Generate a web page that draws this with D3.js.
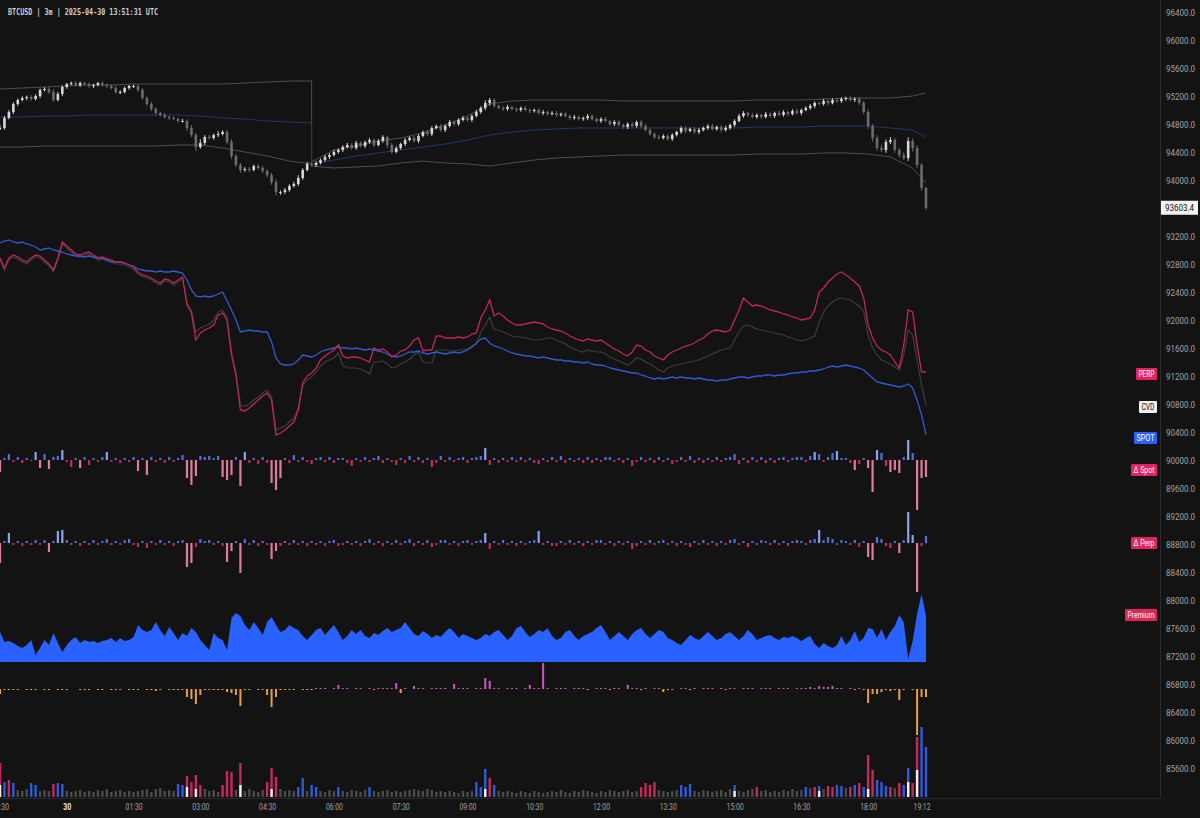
<!DOCTYPE html>
<html><head><meta charset="utf-8">
<script src="https://cdn.jsdelivr.net/npm/d3@7"></script>
<style>
html,body{margin:0;padding:0;background:#131313;}
svg{display:block;}
</style></head><body>
<svg id="c" width="1200" height="818"></svg>
<script>
// ---------- DATA (6-minute resolution, point i = 22:30 + 6*i minutes) ----------
const closes = [
94743,94886,94971,95086,95143,95171,95186,95157,95200,95286,
95300,95257,95143,95229,95329,95371,95386,95357,95386,95371,
95343,95357,95386,95357,95343,95314,95257,95257,95314,95343,
95343,95286,95171,95086,95014,94957,94929,94900,94886,94871,
94843,94843,94743,94643,94471,94529,94614,94600,94643,94657,
94686,94543,94343,94214,94143,94157,94143,94200,94171,94129,
94071,93971,93829,93829,93857,93914,93943,94029,94143,94229,
94214,94243,94286,94329,94357,94400,94429,94471,94500,94457,
94529,94486,94543,94571,94500,94557,94614,94500,94400,94457,
94514,94571,94600,94557,94629,94686,94657,94743,94771,94714,
94771,94829,94800,94857,94886,94857,94914,94971,95029,95100,
95143,95057,95029,95014,95043,95014,95000,95029,95000,94986,
95000,94957,94971,94943,94957,94929,94943,94914,94886,94900,
94871,94886,94914,94871,94843,94871,94843,94800,94829,94786,
94757,94800,94771,94829,94771,94714,94657,94614,94600,94629,
94586,94643,94686,94743,94700,94729,94686,94714,94743,94771,
94729,94757,94714,94743,94786,94843,94914,94957,94929,94900,
94929,94900,94943,94914,94957,94929,94971,94943,94986,94957,
95000,95029,95057,95100,95086,95129,95100,95143,95129,95157,
95171,95143,95157,95100,94971,94771,94600,94457,94429,94543,
94571,94429,94357,94314,94557,94457,94214,93886,93603.4];
// upper / lower wick lengths (USD beyond the body)
const wickHi = [
40,30,30,25,20,25,20,30,25,20, 25,30,40,30,20,15,20,25,20,20, 25,20,15,25,20,25,30,25,20,15, 20,25,30,25,30,25,20,25,20,25,
20,30,25,40,30,50,25,30,20,40, 25,30,40,25,30,25,30,20,25,30, 25,30,40,20,30,25,30,40,25,30, 30,25,20,30,25,30,20,25,30,25,
30,25,20,30,25,30,25,20,30,25, 20,30,25,30,25,20,30,25,20,30, 25,30,20,25,30,20,25,30,25,40, 30,25,20,25,30,20,25,20,30,25,
20,25,30,20,25,30,20,25,20,30, 25,20,30,25,20,25,30,20,25,30, 20,25,30,20,25,30,25,20,30,25, 30,25,20,25,30,20,25,30,20,25,
30,20,25,30,20,25,30,25,20,30, 25,20,30,25,20,30,25,20,25,30, 20,25,30,25,20,30,25,20,30,25, 20,30,25,30,30,40,30,40,50,35,
40,30,30,40,50,35,40,30,20];
const wickLo = [
30,25,20,30,25,20,30,25,20,30, 20,30,25,20,30,25,20,25,30,20, 25,30,20,25,30,20,25,30,20,25, 30,25,20,30,25,30,20,25,30,20,
25,20,40,30,60,25,30,20,25,30, 20,30,40,30,40,25,30,20,25,30, 30,40,50,40,30,25,20,30,25,20, 25,30,20,25,30,20,25,30,20,30,
25,20,30,25,30,20,25,40,30,20, 25,30,20,25,30,20,25,30,20,25, 30,20,25,30,20,25,30,20,25,30, 40,25,20,30,25,20,30,25,20,30,
25,20,30,25,20,30,25,20,30,25, 20,25,30,20,25,30,20,25,30,20, 25,30,20,25,30,20,25,30,25,20, 25,30,20,25,30,20,25,30,20,25,
20,25,30,20,25,30,20,25,30,20, 25,30,20,25,30,20,25,30,20,25, 30,20,25,30,20,25,30,20,25,30, 25,20,30,25,30,40,50,40,30,40,
30,40,40,30,40,50,40,40,30];

// anchored VWAP bands (session reset at 05:30)
const bandIdx = [0,5,10,15,20,25,30,35,40,45,50,55,60,65,70,
  70,75,80,85,90,95,100,105,110,115,120,125,130,135,140,145,150,155,160,165,170,175,180,185,190,195,200,205,208];
const bandUpper = [95300,95314,95329,95343,95357,95357,95371,95371,95371,95371,95371,95386,95400,95414,95414,
  94257,94429,94486,94557,94600,94671,94786,94914,95086,95129,95143,95143,95143,95143,95129,95129,95129,95129,95129,95129,95143,95143,95143,95157,95171,95171,95171,95200,95243];
const bandMid = [94900,94900,94914,94914,94929,94929,94929,94929,94929,94914,94886,94871,94843,94829,94814,
  94229,94286,94343,94386,94429,94471,94514,94571,94643,94686,94714,94729,94743,94743,94743,94743,94743,94743,94743,94743,94757,94757,94757,94771,94771,94771,94743,94714,94614];
const bandLower = [94471,94471,94486,94486,94486,94486,94486,94486,94500,94500,94457,94400,94343,94271,94229,
  94200,94171,94186,94200,94243,94271,94243,94229,94200,94243,94286,94314,94329,94343,94357,94357,94357,94357,94357,94357,94371,94371,94371,94386,94386,94371,94329,94171,93957];

// cumulative volume delta pane
const spotCvd = [
197,199,200,198,197,198,196,195,193,190,191,192,190,189,188,186,185,184,184,183,
184,183,182,182,180,178,178,178,177,175,174,171,170,169,169,168,169,168,168,169,
168,167,160,150,144,143,144,143,144,146,148,139,130,120,108,109,110,109,109,108,
108,98,82,76,75,75,76,80,85,84,83,85,88,90,91,92,93,92,92,91,
92,91,90,91,90,89,88,86,84,83,84,86,88,88,89,87,86,87,88,87,
86,87,88,87,88,90,93,97,101,102,97,94,93,91,89,87,86,85,84,84,
83,82,83,82,81,80,80,79,79,78,78,77,78,76,75,75,74,72,71,70,
69,68,67,67,65,64,62,61,62,61,62,63,62,63,62,62,61,62,61,60,
60,59,60,60,61,62,63,63,62,63,64,64,65,65,64,65,65,66,67,67,
68,68,69,69,70,71,73,74,73,74,75,74,73,72,70,66,62,58,57,56,
55,54,53,54,56,52,40,25,5];
const perpCvd = [
182,172,182,185,183,180,178,182,185,184,180,176,170,182,198,194,190,186,185,187,
188,185,182,183,181,180,178,178,177,175,173,168,165,164,162,159,157,161,160,157,
160,163,135,127,100,107,110,112,115,125,127,120,85,65,30,29,32,36,40,44,
47,40,5,7,10,14,18,30,57,64,67,72,80,84,87,90,95,84,82,83,
83,82,80,78,92,90,91,88,83,85,89,90,94,100,102,89,90,90,104,104,
102,102,102,103,102,103,106,107,122,130,140,124,127,124,120,117,115,115,116,117,
118,117,116,113,111,110,109,107,104,102,100,99,101,100,99,100,97,94,91,89,
86,84,88,95,94,90,88,84,82,80,85,88,90,92,94,95,97,100,102,106,
109,110,109,108,110,120,130,142,138,134,135,134,132,130,129,128,126,125,123,122,
120,121,122,130,148,152,158,162,166,168,165,162,158,154,142,115,102,94,90,88,
85,78,72,95,130,128,95,68,68];
const totalCvd = [
180,170,180,183,181,178,176,180,183,182,178,174,168,180,196,192,188,184,183,185,
186,183,180,181,179,178,176,176,175,173,171,166,163,162,160,157,155,159,158,155,
158,161,137,130,108,112,114,116,120,128,130,122,88,68,35,34,36,40,43,47,
50,43,10,12,14,18,22,32,55,60,63,68,74,78,80,82,87,75,72,72,
72,71,69,66,78,78,79,76,72,73,76,78,81,85,88,78,77,77,90,90,
90,89,89,90,90,91,94,96,108,115,123,110,110,108,106,104,103,103,102,101,
100,100,101,102,102,100,98,96,93,91,89,88,90,89,88,88,86,83,81,79,
77,75,78,82,81,78,76,73,70,68,72,74,75,76,77,78,79,80,82,84,
86,88,90,91,92,100,108,114,115,113,111,110,109,108,107,106,105,103,102,100,
99,100,102,104,118,128,134,138,141,142,141,140,137,134,128,105,92,85,80,78,
76,73,70,85,110,105,80,55,35];

// per-bar deltas
const deltaSpot = [
-12,2,6,-2,3,-3,2,-1,8,-8, 6,-9,3,4,10,-2,-7,2,-8,3, -5,2,-2,3,8,-2,2,-3,2,-2, 3,-11,2,-15,3,-2,2,-3,3,-2,
2,5,-18,-25,-16,4,3,4,2,4, -17,-20,-15,3,-26,8,-3,2,-4,3, -3,-23,-30,-18,2,-3,5,-2,3,-2, -4,2,3,-2,3,-3,2,2,-3,-6,
2,-2,3,-2,2,4,-3,2,-2,-5, 2,-3,4,-2,3,-3,2,-7,-3,4, -2,3,-2,2,3,-3,2,3,4,12, -5,2,-3,2,-2,3,-2,3,-2,2,
-3,-4,2,-2,3,-2,4,-3,2,-2, 2,-3,3,-3,2,-2,3,3,-2,2, -3,2,-6,-2,3,-2,2,-3,3,-2, 2,-4,-2,3,-2,4,-3,2,-3,2,
-2,3,-2,2,3,6,-4,2,-3,3, -2,3,-3,2,-3,2,3,-2,2,3, 3,-2,4,8,6,-2,3,7,9,2, 2,-3,-10,-4,2,-8,-32,10,7,-6,
-12,-10,-13,3,20,7,-50,-18,-17];
const deltaPerp = [
-20,2,10,-2,2,-3,2,-2,3,-2, 3,-9,2,12,13,3,-2,2,-3,2, -2,3,-2,2,4,-2,2,-2,3,4, -2,-4,2,-5,2,-2,3,-2,2,-3,
2,3,-24,-20,-4,4,2,3,-2,2, -3,-19,-8,2,-30,4,-2,3,-3,2, -2,-16,-8,-3,2,-2,3,-2,2,-3, 2,-2,2,-3,2,3,-3,-2,2,-2,
2,-3,2,4,-2,2,-3,2,-2,3, -2,2,4,-3,2,-2,3,-4,-2,3, 3,-2,2,-3,2,3,-2,2,3,10, -6,2,-2,3,-2,2,-3,2,-2,2,
3,12,-2,2,-3,-3,2,-2,3,-2, 2,-3,2,-2,3,3,-2,2,-3,2, -2,2,-6,-3,2,-2,3,-2,2,3, -2,2,-3,2,-2,-4,2,-2,3,-2,
2,-3,2,-2,3,4,-2,2,-4,2, -2,3,2,-2,3,-2,2,-3,2,3, 2,-2,3,4,13,3,6,4,-2,3, 2,-2,3,-4,2,-14,-17,6,4,-3,
-5,2,-10,3,31,8,-49,-3,7];

// perp premium
const premium = [
30,20,21,19,16,14,17,22,7,14, 22,17,29,19,10,17,22,25,19,22, 20,21,19,21,22,24,20,24,21,22, 25,37,32,30,32,40,32,26,35,29,
22,29,26,34,30,22,17,12,29,24, 22,12,44,49,46,37,32,40,34,27, 40,45,37,30,32,37,34,32,26,22, 27,32,34,27,32,37,30,22,26,32,
28,32,26,24,29,27,31,34,30,32, 34,40,34,28,26,31,28,24,27,25, 30,34,30,24,28,26,24,22,24,28, 26,30,32,27,22,26,34,36,30,25,
28,32,30,34,26,22,24,30,32,26, 22,26,28,30,34,37,30,22,26,30, 26,22,28,32,34,28,24,28,32,30, 24,22,19,17,22,27,24,22,26,30,
26,22,24,28,30,26,22,26,32,28, 22,24,26,27,24,22,25,24,26,24, 21,24,26,18,14,19,16,14,17,26, 17,22,31,20,24,34,33,24,33,22,
30,36,47,40,3,21,48,68,46];

// liquidations / large prints (pink up, orange down)
const liqFlow = [
-5,-1,-1,-1,-1,0,-1,-1,-1,0, -1,-1,0,-1,-1,-1,0,0,-1,-1, -1,0,-1,-1,0,-1,-1,-1,0,-1, -1,-1,0,-1,-1,-2,-1,0,-1,-1,
-1,-1,-8,-10,-15,-6,-1,-1,-1,-1, -1,-3,-4,-6,-17,-1,-1,0,-1,-1, -6,-18,-8,-1,-1,-1,-1,0,-1,-1, -1,1,1,1,0,1,4,1,1,0,
1,1,0,1,-1,1,1,1,1,6, -4,1,0,3,1,1,0,1,1,1, 1,0,5,1,1,1,0,1,1,11, 8,1,1,0,1,1,1,0,1,4,
1,1,26,1,0,1,1,1,0,1, 1,1,-1,0,1,1,1,-1,1,1, 0,4,1,1,-1,1,0,1,1,-3, -1,-1,0,1,1,-1,1,0,1,1,
1,0,1,-1,1,1,0,1,1,1, 0,1,1,1,0,1,1,1,0,1, 1,1,2,1,3,2,2,3,1,1, 0,1,-1,1,-1,-14,-5,-5,-3,-1,
-2,-1,-11,-1,0,-1,-46,-8,-8];

// volume (signed: + buy dominant, - sell dominant)
const volume = [
-34,15,-17,14,7,6,8,14,12,6, 7,6,-13,14,13,6,5,6,7,5, 6,5,7,6,-8,5,6,7,5,6, 5,6,7,-8,5,-8,9,6,7,6,
13,12,-21,-15,-22,-12,8,6,7,5, -12,-26,-25,7,-34,6,-8,6,5,7, -15,-29,-20,8,6,7,6,10,19,6, 12,10,6,5,7,6,10,6,5,7,
6,5,7,10,6,5,6,7,5,6, 5,6,7,8,7,6,8,7,5,6, 5,6,5,4,6,5,6,15,10,28, -19,12,6,5,-6,5,4,6,5,4,
6,5,4,5,6,5,-7,5,4,6, 5,-7,6,5,4,6,5,7,6,5, 6,7,5,6,-10,-14,-12,-15,7,6, 5,6,7,12,10,13,6,5,7,6,
5,6,7,5,8,12,6,5,7,-8, -10,6,7,5,6,5,7,6,8,6, 7,10,9,-10,11,8,-11,-10,12,11, 9,-10,12,-14,10,-42,-27,17,15,11,
-10,9,-14,12,29,-14,-60,70,50];
const whaleIdx = [0,42,44,54,61,109,165,184,195,204,206];
const whaleVol = [12,10,8,12,8,8,6,6,8,15,27];

const priceTicks = d3.range(85600, 96401, 400);
const timeTickMin = [0,90,180,270,360,450,540,630,720,810,900,990,1080,1170,1242];
const timeTickLbl = ["22:30","30","01:30","03:00","04:30","06:00","07:30","09:00","10:30","12:00","13:30","15:00","16:30","18:00","19:12"];

// ---------- CHART ----------
const W = 1200, H = 818, PR = 1160, PB = 798;
const svg = d3.select('#c');
svg.append('rect').attr('width', W).attr('height', H).attr('fill', '#131313');
const defs = svg.append('defs');
defs.append('clipPath').attr('id', 'plot').append('rect').attr('x', 0).attr('y', 0).attr('width', PR).attr('height', PB);

const x = d3.scaleLinear().domain([0, 1248]).range([0, 926]);
const xi = i => x(i * 6);
const yP = d3.scaleLinear().domain([85600, 96400]).range([768, 12]);
const yCvd = d3.scaleLinear().domain([0, 200]).range([440, 240]);
const yDS = d3.scaleLinear().domain([-50, 30]).range([510, 430]);
const yDP = d3.scaleLinear().domain([-50, 30]).range([593, 513]);
const yPrem = d3.scaleLinear().domain([0, 70]).range([662, 592]);
const yLiq = d3.scaleLinear().domain([-50, 30]).range([739, 659]);
const yVol = d3.scaleLinear().domain([0, 80]).range([797, 717]);

const g = svg.append('g').attr('clip-path', 'url(#plot)');

// VWAP bands
const bandLine = d3.line().x((d, k) => xi(bandIdx[k])).y(d => yP(d));
g.append('path').datum(bandUpper).attr('d', bandLine).attr('fill', 'none').attr('stroke', '#4e4e4e').attr('stroke-width', 1);
g.append('path').datum(bandLower).attr('d', bandLine).attr('fill', 'none').attr('stroke', '#4e4e4e').attr('stroke-width', 1);
g.append('path').datum(bandMid).attr('d', bandLine).attr('fill', 'none').attr('stroke', '#22376a').attr('stroke-width', 1);

// candles
const candles = closes.map((c, i) => {
  const o = i ? closes[i - 1] : c;
  return {i, o, c, h: Math.max(o, c) + wickHi[i], l: Math.min(o, c) - wickLo[i]};
});
const colOf = d => d.c >= d.o ? '#d6d6d6' : '#6c6c6c';
const cg = g.append('g');
cg.selectAll('line').data(candles).join('line')
  .attr('x1', d => xi(d.i)).attr('x2', d => xi(d.i))
  .attr('y1', d => yP(d.h)).attr('y2', d => yP(d.l))
  .attr('stroke', colOf).attr('stroke-width', 1);
const cw = 2.6;
cg.selectAll('rect').data(candles).join('rect')
  .attr('x', d => xi(d.i) - cw / 2).attr('width', cw)
  .attr('y', d => yP(Math.max(d.o, d.c)))
  .attr('height', d => Math.max(1, Math.abs(yP(d.o) - yP(d.c))))
  .attr('fill', colOf);

// CVD lines
const cvdLine = d3.line().x((d, i) => xi(i)).y(d => yCvd(d));
g.append('path').datum(totalCvd).attr('d', cvdLine).attr('fill', 'none').attr('stroke', '#3d3d3d').attr('stroke-width', 1.2);
g.append('path').datum(spotCvd).attr('d', cvdLine).attr('fill', 'none').attr('stroke', '#2f5ad6').attr('stroke-width', 1.3);
g.append('path').datum(perpCvd).attr('d', cvdLine).attr('fill', 'none').attr('stroke', '#c4255a').attr('stroke-width', 1.3);

// delta bars
function deltaBars(arr, sc) {
  g.append('g').selectAll('rect').data(arr).join('rect')
    .attr('x', (d, i) => xi(i) - 1.1).attr('width', 2.2)
    .attr('y', d => Math.min(sc(0), sc(d)))
    .attr('height', d => Math.max(1, Math.abs(sc(d) - sc(0))))
    .attr('fill', d => d >= 0 ? (d >= 8 ? '#8aa2ee' : '#4f70de') : (d <= -8 ? '#e07b9b' : '#c8285a'));
}
deltaBars(deltaSpot, yDS);
deltaBars(deltaPerp, yDP);

// premium area
g.append('path').datum(premium)
  .attr('d', d3.area().x((d, i) => xi(i)).y0(yPrem(0)).y1(d => yPrem(d)))
  .attr('fill', '#2962ff');

// liquidation bars
g.append('g').selectAll('rect').data(liqFlow).join('rect')
  .attr('x', (d, i) => xi(i) - 1).attr('width', 2)
  .attr('y', d => Math.min(yLiq(0), yLiq(d)))
  .attr('height', d => d === 0 ? 0 : Math.max(1, Math.abs(yLiq(d) - yLiq(0))))
  .attr('fill', d => d >= 0 ? '#cf55c4' : '#e9a13f');

// volume
g.append('g').selectAll('rect').data(volume).join('rect')
  .attr('x', (d, i) => xi(i) - 1.2).attr('width', 2.4)
  .attr('y', d => yVol(Math.abs(d)))
  .attr('height', d => yVol(0) - yVol(Math.abs(d)))
  .attr('fill', d => Math.abs(d) <= 9 ? '#4a4a4a' : (d > 0 ? '#2f5bdb' : '#c8285a'));
g.append('g').selectAll('rect').data(whaleIdx).join('rect')
  .attr('x', i => xi(i) - 1.2).attr('width', 2.4)
  .attr('y', (i, k) => yVol(whaleVol[k]))
  .attr('height', (i, k) => yVol(0) - yVol(whaleVol[k]))
  .attr('fill', '#eeeeee');

// frame lines
svg.append('line').attr('x1', PR + 0.5).attr('x2', PR + 0.5).attr('y1', 0).attr('y2', PB).attr('stroke', '#2c2c2c');
svg.append('line').attr('x1', 0).attr('x2', PR).attr('y1', PB + 0.5).attr('y2', PB + 0.5).attr('stroke', '#2c2c2c');

// price axis
const ay = svg.append('g').attr('transform', `translate(${PR + 2},0)`)
  .call(d3.axisRight(yP).tickValues(priceTicks).tickFormat(d => d.toFixed(1)).tickSize(0).tickPadding(4));
ay.select('.domain').remove();
ay.selectAll('text').attr('fill', '#a3a3a3').attr('font-size', 9.5)
  .attr('font-family', '"Liberation Sans Narrow","Roboto",sans-serif')
  .attr('textLength', 29).attr('lengthAdjust', 'spacingAndGlyphs');

// time axis
const ax = svg.append('g').attr('transform', `translate(0,${PB})`)
  .call(d3.axisBottom(x).tickValues(timeTickMin).tickFormat((d, i) => timeTickLbl[i]).tickSize(0).tickPadding(5));
ax.select('.domain').remove();
ax.selectAll('text').attr('fill', '#a3a3a3').attr('font-size', 9.5)
  .attr('font-family', '"Liberation Sans Narrow","Roboto",sans-serif')
  .attr('textLength', (d, i) => timeTickLbl[i].length === 2 ? 8 : 17).attr('lengthAdjust', 'spacingAndGlyphs');
ax.selectAll('text').filter((d, i) => timeTickLbl[i] === '30').attr('fill', '#e6e6e6').attr('font-weight', 'bold');

// last price tag
const lastP = closes[closes.length - 1];
svg.append('rect').attr('x', PR + 1).attr('y', yP(lastP) - 7).attr('width', 37).attr('height', 14).attr('fill', '#f2f2f2');
svg.append('text').attr('x', PR + 19.5).attr('y', yP(lastP) + 3.5).attr('text-anchor', 'middle')
  .attr('font-size', 9.5).attr('font-family', '"Liberation Sans Narrow","Roboto",sans-serif').attr('fill', '#111')
  .attr('textLength', 29).attr('lengthAdjust', 'spacingAndGlyphs').text(lastP.toFixed(1));

// series tags
const tags = [
  {t: 'PERP', y: yCvd(perpCvd[perpCvd.length - 1]) + 2, w: 21, bg: '#e0245e', fg: '#fff'},
  {t: 'CVD', y: yCvd(totalCvd[totalCvd.length - 1]) + 2, w: 18, bg: '#f2f2f2', fg: '#111'},
  {t: 'SPOT', y: yCvd(spotCvd[spotCvd.length - 1]) + 3, w: 23, bg: '#2962ff', fg: '#fff'},
  {t: 'Δ Spot', y: 470, w: 26, bg: '#e0245e', fg: '#fff'},
  {t: 'Δ Perp', y: 543, w: 26, bg: '#e0245e', fg: '#fff'},
  {t: 'Premium', y: yPrem(premium[premium.length - 1]) - 1, w: 32, bg: '#e0245e', fg: '#fff'}
];
const tg = svg.append('g');
tags.forEach(d => {
  tg.append('rect').attr('x', 1157 - d.w).attr('y', d.y - 6).attr('width', d.w).attr('height', 12).attr('rx', 1).attr('fill', d.bg);
  tg.append('text').attr('x', 1157 - d.w / 2).attr('y', d.y + 3).attr('text-anchor', 'middle')
    .attr('font-size', 9).attr('font-family', '"Liberation Sans Narrow","Roboto",sans-serif').attr('fill', d.fg)
    .attr('textLength', d.w - 5).attr('lengthAdjust', 'spacingAndGlyphs').text(d.t);
});

// title
svg.append('text').attr('x', 8).attr('y', 15).attr('fill', '#d0d0d0').attr('font-size', 8)
  .attr('font-weight', 'bold').attr('font-family', '"DejaVu Sans Mono",monospace')
  .attr('textLength', 150).attr('lengthAdjust', 'spacingAndGlyphs')
  .text('BTCUSD | 3m | 2025-04-30 13:51:31 UTC');
</script>
</body></html>
